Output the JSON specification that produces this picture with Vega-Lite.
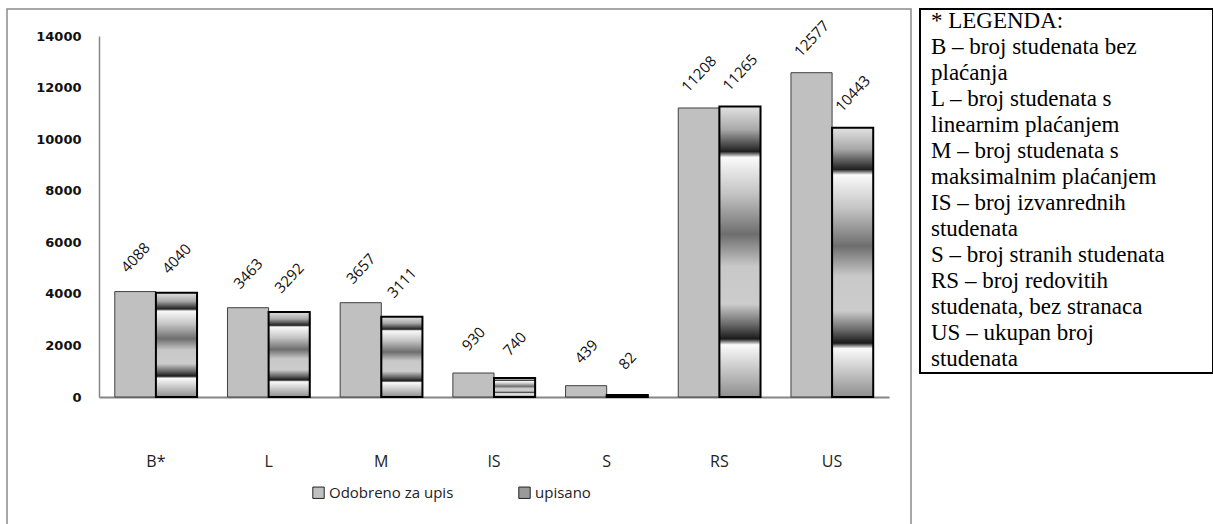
{
  "$schema": "https://vega.github.io/schema/vega-lite/v6.json",
  "padding": {"left": 6, "top": 8, "right": 0, "bottom": 0},
  "background": "white",
  "spacing": 7,
  "config": {"font": "Open Sans", "axis": {"grid": false}},
  "hconcat": [
    {
      "width": 904,
      "height": 518,
      "view": {"stroke": "#8c8c8c", "strokeWidth": 1.5},
      "data": {
        "values": [
          {"cat": "B*", "series": "Odobreno za upis", "value": 4088},
          {"cat": "B*", "series": "upisano", "value": 4040},
          {"cat": "L", "series": "Odobreno za upis", "value": 3463},
          {"cat": "L", "series": "upisano", "value": 3292},
          {"cat": "M", "series": "Odobreno za upis", "value": 3657},
          {"cat": "M", "series": "upisano", "value": 3111},
          {"cat": "IS", "series": "Odobreno za upis", "value": 930},
          {"cat": "IS", "series": "upisano", "value": 740},
          {"cat": "S", "series": "Odobreno za upis", "value": 439},
          {"cat": "S", "series": "upisano", "value": 82},
          {"cat": "RS", "series": "Odobreno za upis", "value": 11208},
          {"cat": "RS", "series": "upisano", "value": 11265},
          {"cat": "US", "series": "Odobreno za upis", "value": 12577},
          {"cat": "US", "series": "upisano", "value": 10443}
        ]
      },
      "encoding": {
        "x": {
          "field": "cat",
          "type": "nominal",
          "sort": ["B*", "L", "M", "IS", "S", "RS", "US"],
          "scale": {"range": [92, 882], "paddingInner": 0.27, "paddingOuter": 0.14},
          "title": null,
          "axis": {
            "offset": -130,
            "labelAngle": 0,
            "ticks": false,
            "domainColor": "#868686",
            "domainWidth": 2,
            "labelPadding": 56,
            "labelFont": "Open Sans",
            "labelFontSize": 16,
            "labelColor": "#222222"
          }
        },
        "xOffset": {
          "field": "series",
          "type": "nominal",
          "sort": ["Odobreno za upis", "upisano"],
          "scale": {"paddingInner": 0, "paddingOuter": 0}
        },
        "y": {
          "field": "value",
          "type": "quantitative",
          "scale": {"domain": [0, 14000], "range": [388, 27], "nice": false},
          "title": null,
          "axis": {
            "offset": -92,
            "values": [0, 2000, 4000, 6000, 8000, 10000, 12000, 14000],
            "format": "d",
            "ticks": false,
            "domainColor": "#868686",
            "domainWidth": 1.5,
            "labelPadding": 18,
            "labelFont": "DejaVu Sans",
            "labelFontWeight": "bold",
            "labelFontSize": 13,
            "labelColor": "#111111"
          }
        }
      },
      "layer": [
        {
          "mark": {"type": "bar", "stroke": "#404040", "strokeWidth": 1},
          "encoding": {
            "color": {
              "field": "series",
              "type": "nominal",
              "scale": {"domain": ["Odobreno za upis", "upisano"], "range": ["#c0c0c0", "#9a9a9a"]},
              "legend": {
                "title": null,
                "orient": "none",
                "direction": "horizontal",
                "legendX": 304,
                "legendY": 476,
                "symbolType": "square",
                "symbolSize": 130,
                "symbolStrokeColor": "#222222",
                "symbolStrokeWidth": 1,
                "labelFont": "Open Sans",
                "labelFontSize": 15,
                "labelColor": "#222222",
                "columnPadding": 62,
                "labelOffset": 3
              }
            }
          }
        },
        {
          "transform": [{"filter": "datum.series === 'upisano'"}],
          "mark": {
            "type": "bar",
            "stroke": "black",
            "strokeWidth": 2,
            "fill": {
              "gradient": "linear",
              "x1": 0, "y1": 0, "x2": 0, "y2": 1,
              "stops": [
                {"offset": 0, "color": "#e2e2e2"},
                {"offset": 0.08, "color": "#a8a8a8"},
                {"offset": 0.155, "color": "#202020"},
                {"offset": 0.175, "color": "#fafafa"},
                {"offset": 0.3, "color": "#c4c4c4"},
                {"offset": 0.44, "color": "#6e6e6e"},
                {"offset": 0.55, "color": "#c8c8c8"},
                {"offset": 0.68, "color": "#cccccc"},
                {"offset": 0.75, "color": "#6a6a6a"},
                {"offset": 0.8, "color": "#1a1a1a"},
                {"offset": 0.82, "color": "#fafafa"},
                {"offset": 1, "color": "#8e8e8e"}
              ]
            }
          }
        },
        {
          "mark": {
            "type": "text",
            "angle": -47,
            "dx": 25,
            "dy": -23,
            "align": "center",
            "baseline": "middle",
            "font": "Open Sans",
            "fontSize": 15,
            "color": "#111111"
          },
          "encoding": {"text": {"field": "value", "type": "quantitative"}}
        }
      ]
    },
    {
      "width": 293,
      "height": 364,
      "view": {"stroke": "black", "strokeWidth": 2},
      "data": {
        "values": [
          {"line": 0, "t": "* LEGENDA:"},
          {"line": 1, "t": "B – broj studenata bez"},
          {"line": 2, "t": "plaćanja"},
          {"line": 3, "t": "L – broj studenata s"},
          {"line": 4, "t": "linearnim plaćanjem"},
          {"line": 5, "t": "M – broj studenata s"},
          {"line": 6, "t": "maksimalnim plaćanjem"},
          {"line": 7, "t": "IS – broj izvanrednih"},
          {"line": 8, "t": "studenata"},
          {"line": 9, "t": "S – broj stranih studenata"},
          {"line": 10, "t": "RS – broj redovitih"},
          {"line": 11, "t": "studenata, bez stranaca"},
          {"line": 12, "t": "US – ukupan broj"},
          {"line": 13, "t": "studenata"}
        ]
      },
      "mark": {
        "type": "text",
        "align": "left",
        "baseline": "middle",
        "font": "Liberation Serif",
        "fontSize": 23,
        "color": "black"
      },
      "encoding": {
        "y": {"field": "line", "type": "quantitative", "scale": {"domain": [0, 13], "range": [12, 350]}, "axis": null},
        "x": {"value": 11},
        "text": {"field": "t"}
      }
    }
  ]
}
